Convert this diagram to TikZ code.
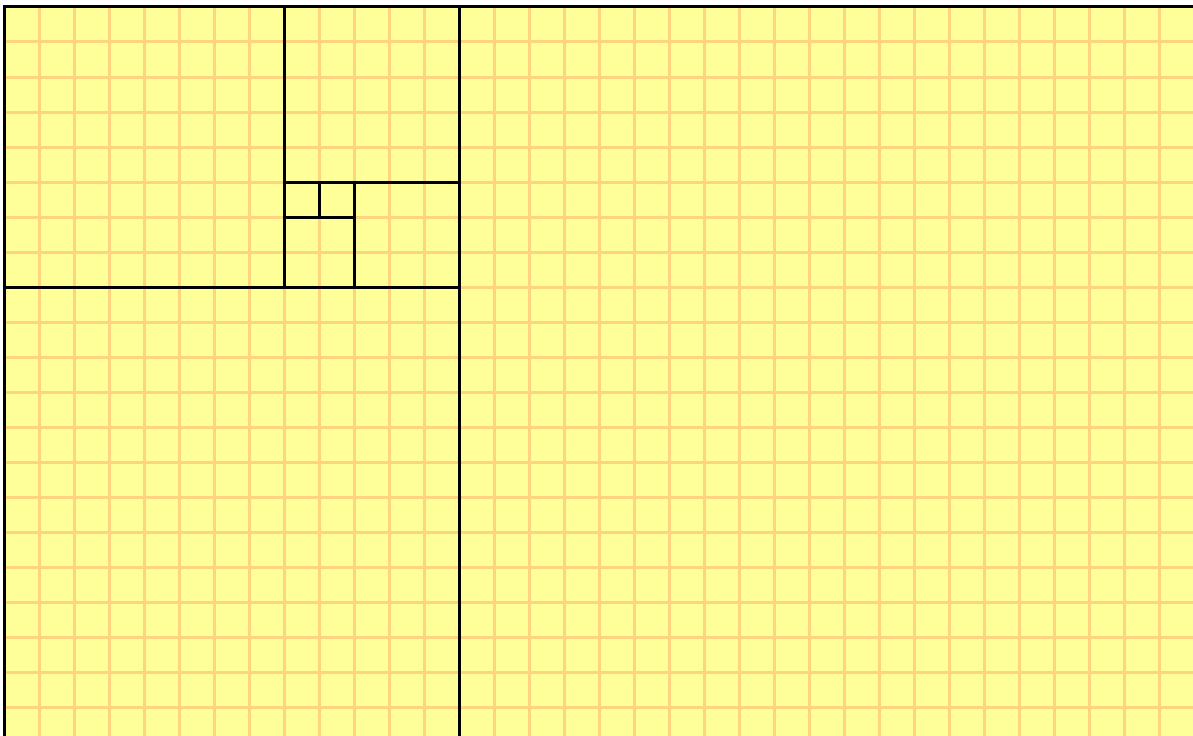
\documentclass[tikz,border=0pt]{standalone}
\definecolor{tileyellow}{RGB}{255,255,153}
\definecolor{gridorange}{RGB}{255,212,128}
\tikzset{
  tilefill/.style={fill=tileyellow},
  gridline/.style={draw=gridorange,line width=3bp},
  sqedge/.style={draw=black,line width=3bp}
}
\begin{document}
\begin{tikzpicture}[x=1bp,y=-1bp]
\useasboundingbox (0,0) rectangle (1193,736);
\clip (0,0) rectangle (1193,736);
\begin{scope}[shift={(4,7)},x=35bp,y=-35bp]
  \fill[tilefill] (0,0) rectangle (34,21);
  \foreach \i in {1,...,33} \draw[gridline] (\i,0) -- (\i,21);
  \foreach \j in {1,...,20} \draw[gridline] (0,\j) -- (34,\j);
  % Fibonacci squares
  \draw[sqedge] (0,0) rectangle (8,8);
  \draw[sqedge] (8,0) rectangle (13,5);
  \draw[sqedge] (10,5) rectangle (13,8);
  \draw[sqedge] (8,6) rectangle (10,8);
  \draw[sqedge] (8,5) rectangle (9,6);
  \draw[sqedge] (9,5) rectangle (10,6);
  \draw[sqedge] (0,8) rectangle (13,21);
  \draw[sqedge] (13,0) rectangle (34,21);
\end{scope}
\end{tikzpicture}
\end{document}
